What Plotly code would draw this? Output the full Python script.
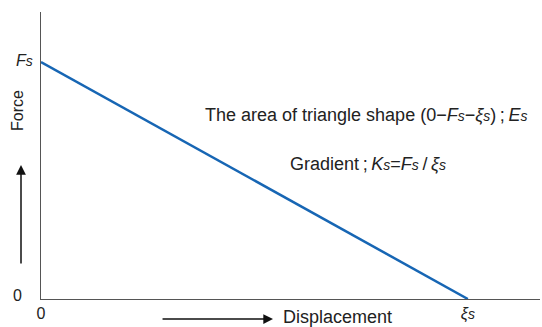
import plotly.graph_objects as go

# idealised force-displacement line: force falls from Fs at zero displacement to 0 at xi_s
displacement = [0.0, 1.0]
force = [1.0, 0.0]


def sub(letter, size=14):
    # italic symbol with a small italic "s" sitting close to the baseline
    return f"<i>{letter}<span style='font-size:{size}px'>s</span></i>"


x_tickvals = [0.0, 1.0]
x_ticktext = ["0", sub("ξ")]
y_labels = ["0", sub("F")]
y_label_vals = [0.0, 1.0]

area_text = f"The area of triangle shape (0−{sub('F')}−{sub('ξ')})\u2009;\u2009{sub('E')}"
gradient_text = f"Gradient\u2009;\u2009{sub('K')}={sub('F')}\u2009/\u2009{sub('ξ')}"

FONT = "Liberation Sans, Arial, Helvetica, sans-serif"
TXT = "#222222"
AXIS = "#555555"

fig = go.Figure()
fig.add_trace(go.Scatter(
    x=displacement, y=force,
    mode="lines",
    line=dict(color="#1766b4", width=2.5),
    showlegend=False,
    hoverinfo="skip",
))

annotations = []
for val, lab in zip(y_label_vals, y_labels):
    annotations.append(dict(
        x=0, y=val, xref="paper", yref="y",
        text=lab, showarrow=False,
        xanchor="right", yanchor="middle",
        xshift=-6 if val else -17, yshift=2 if val else 4,
        font=dict(family=FONT, size=16, color=TXT),
    ))

# notes inside the plot
annotations.append(dict(
    x=0.325, y=0.641, xref="paper", yref="paper",
    text=area_text, showarrow=False, xanchor="left", yanchor="middle",
    font=dict(family=FONT, size=18, color=TXT),
))
annotations.append(dict(
    x=0.495, y=0.47, xref="paper", yref="paper",
    text=gradient_text, showarrow=False, xanchor="left", yanchor="middle",
    font=dict(family=FONT, size=18, color=TXT),
))

# axis names with arrows
annotations.append(dict(
    x=0, y=0.655, xref="paper", yref="paper",
    text="Force", textangle=-90, showarrow=False,
    xanchor="center", yanchor="middle", xshift=-24,
    font=dict(family=FONT, size=16, color=TXT),
))
annotations.append(dict(
    x=0, y=0.467, xref="paper", yref="paper", xshift=-20,
    ax=0, ay=100, axref="pixel", ayref="pixel",
    text="", showarrow=True, arrowhead=2, arrowsize=1.3,
    arrowwidth=1.5, arrowcolor="#111111",
))
annotations.append(dict(
    x=0.465, y=0, xref="paper", yref="paper", yshift=-20,
    ax=-112, ay=0, axref="pixel", ayref="pixel",
    text="", showarrow=True, arrowhead=2, arrowsize=1.3,
    arrowwidth=1.5, arrowcolor="#111111",
))
annotations.append(dict(
    x=0.481, y=0, xref="paper", yref="paper", yshift=-18,
    text="Displacement", showarrow=False,
    xanchor="left", yanchor="middle",
    font=dict(family=FONT, size=18, color=TXT),
))

fig.update_layout(
    width=542, height=327,
    margin=dict(l=41, r=2, t=12, b=28),
    paper_bgcolor="white", plot_bgcolor="white",
    font=dict(family=FONT, size=16, color=TXT),
    xaxis=dict(
        range=[0, 1.169], showgrid=False, zeroline=False,
        showline=True, linecolor=AXIS, linewidth=1.2,
        tickvals=x_tickvals, ticktext=x_ticktext, ticks="",
        tickfont=dict(family=FONT, size=16, color=TXT),
    ),
    yaxis=dict(
        range=[0, 1.211], showgrid=False, zeroline=False,
        showline=True, linecolor=AXIS, linewidth=1.2,
        showticklabels=False, ticks="",
    ),
    annotations=annotations,
)

fig.write_html("out.html", config={"displayModeBar": False},
               post_script="document.body.style.margin='0';")
